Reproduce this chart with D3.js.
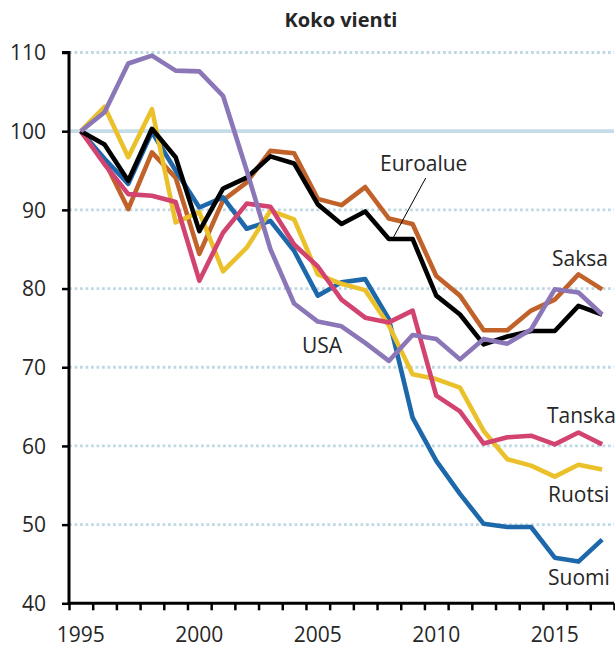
<!DOCTYPE html>
<html>
<head>
<meta charset="utf-8">
<script src="https://cdn.jsdelivr.net/npm/d3@7"></script>
<style>
  body { margin: 0; background: #fff; }
  svg text { font-family: "Open Sans", sans-serif; fill: #262626; }
</style>
</head>
<body>
<div id="chart"></div>
<script>
// Data (indeksi, 1995 = 100)
const years = d3.range(1995, 2018);
const suomi    = [100, 96.5, 93.3, 99.9, 95.0, 90.3, 91.6, 87.6, 88.6, 84.8, 79.1, 80.8, 81.2, 76.1, 63.6, 58.1, 53.9, 50.1, 49.7, 49.7, 45.8, 45.3, 48.1];
const ruotsi   = [100, 103.1, 96.7, 102.8, 88.4, 89.7, 82.2, 85.2, 89.9, 88.8, 81.8, 80.6, 79.8, 75.3, 69.1, 68.5, 67.4, 61.9, 58.3, 57.5, 56.1, 57.6, 57.0];
const tanska   = [100, 95.8, 92.0, 91.8, 91.0, 81.0, 87.1, 90.8, 90.4, 85.6, 82.8, 78.6, 76.3, 75.7, 77.2, 66.4, 64.4, 60.3, 61.1, 61.3, 60.2, 61.7, 60.2];
const usa      = [100, 102.4, 108.6, 109.6, 107.7, 107.6, 104.5, 95.0, 85.0, 78.1, 75.8, 75.2, 73.1, 70.8, 74.1, 73.6, 71.0, 73.6, 73.0, 74.8, 79.9, 79.5, 76.7];
const saksa    = [100, 96.2, 90.1, 97.3, 94.1, 84.4, 91.2, 93.5, 97.5, 97.2, 91.4, 90.6, 92.9, 88.9, 88.2, 81.6, 79.1, 74.7, 74.7, 77.2, 78.6, 81.8, 79.9];
const euroalue = [100, 98.3, 93.7, 100.3, 96.7, 87.3, 92.7, 94.1, 96.8, 95.9, 90.7, 88.2, 89.8, 86.3, 86.3, 79.1, 76.7, 72.9, 73.9, 74.6, 74.6, 77.8, 76.7];
const yTicks = [40, 50, 60, 70, 80, 90, 100, 110];
const xLabels = [1995, 2000, 2005, 2010, 2015];

// drawing order: first at the bottom
const series = [
  { name: "Saksa",    values: saksa,    color: "#c0622a" },
  { name: "Suomi",    values: suomi,    color: "#1c68ab" },
  { name: "Ruotsi",   values: ruotsi,   color: "#ebc12b" },
  { name: "Tanska",   values: tanska,   color: "#d2436f" },
  { name: "Euroalue", values: euroalue, color: "#000000" },
  { name: "USA",      values: usa,      color: "#8b77b7" }
];

const width = 615, height = 647;
const svg = d3.select("#chart").append("svg")
    .attr("width", width)
    .attr("height", height);

const x = d3.scaleLinear().domain([1994.5, 2017.5]).range([69, 614]);
const y = d3.scaleLinear().domain([40, 110]).range([603.3, 52.5]);

// title
svg.append("text")
    .attr("x", 341)
    .attr("y", 27)
    .attr("text-anchor", "middle")
    .style("font-weight", "bold")
    .style("font-size", "20px")
    .text("Koko vienti");

// gridlines
svg.append("g")
  .selectAll("line")
  .data(yTicks.filter(d => d > 40))
  .enter()
  .append("line")
    .attr("x1", x(1994.5))
    .attr("x2", x(2017.5))
    .attr("y1", d => y(d))
    .attr("y2", d => y(d))
    .attr("stroke", d => d === 100 ? "#c4dde8" : "#bfd9e4")
    .attr("stroke-width", d => d === 100 ? 3.7 : 2.8)
    .attr("stroke-dasharray", d => d === 100 ? null : "2.8,2.7");

// lines
const line = d3.line()
    .x((d, i) => x(years[i]))
    .y(d => y(d));

svg.append("g")
  .selectAll("path")
  .data(series)
  .enter()
  .append("path")
    .attr("d", d => line(d.values))
    .attr("fill", "none")
    .attr("stroke", d => d.color)
    .attr("stroke-width", 4.6)
    .attr("stroke-linejoin", "round");

// y axis
const yAxis = d3.axisLeft(y)
    .tickValues(yTicks)
    .tickSize(7)
    .tickPadding(16);
const gy = svg.append("g")
    .attr("transform", `translate(${x(1994.5)},0)`)
    .call(yAxis);
gy.select(".domain").attr("stroke", "#000").attr("stroke-width", 3)
    .attr("d", `M-7,${y(110)}H0V${y(40)}`);
gy.selectAll(".tick line").attr("stroke", "#000").attr("stroke-width", 2.5);
gy.selectAll(".tick text")
    .style("font-size", "21px")
    .attr("fill", "#262626")
    .attr("dy", "0.35em");

// x axis: ticks between years
const xAxis = d3.axisBottom(x)
    .tickValues(d3.range(1994.5, 2018, 1))
    .tickSize(7)
    .tickFormat("");
const gx = svg.append("g")
    .attr("transform", `translate(0,${y(40)})`)
    .call(xAxis);
gx.select(".domain").attr("stroke", "#000").attr("stroke-width", 3)
    .attr("d", `M${x(1994.5)},0H${x(2017.5)}`);
gx.selectAll(".tick line").attr("stroke", "#000").attr("stroke-width", 2.5);

svg.append("g")
  .selectAll("text")
  .data(xLabels)
  .enter()
  .append("text")
    .attr("x", d => x(d))
    .attr("y", 642)
    .attr("text-anchor", "middle")
    .style("font-size", "21px")
    .text(d => d);

// series labels
const labels = [
  { text: "Euroalue", x: 380, y: 171 },
  { text: "Saksa",    x: 552, y: 266 },
  { text: "USA",      x: 302, y: 353 },
  { text: "Tanska",   x: 547, y: 423 },
  { text: "Ruotsi",   x: 548, y: 502 },
  { text: "Suomi",    x: 548, y: 585 }
];
svg.append("g")
  .selectAll("text")
  .data(labels)
  .enter()
  .append("text")
    .attr("x", d => d.x)
    .attr("y", d => d.y)
    .style("font-size", "21px")
    .text(d => d.text);

// leader line for Euroalue
svg.append("line")
    .attr("x1", 425.7).attr("y1", 178)
    .attr("x2", x(2008.2)).attr("y2", y(euroalue[13]) - 2)
    .attr("stroke", "#000")
    .attr("stroke-width", 1);
</script>
</body>
</html>
